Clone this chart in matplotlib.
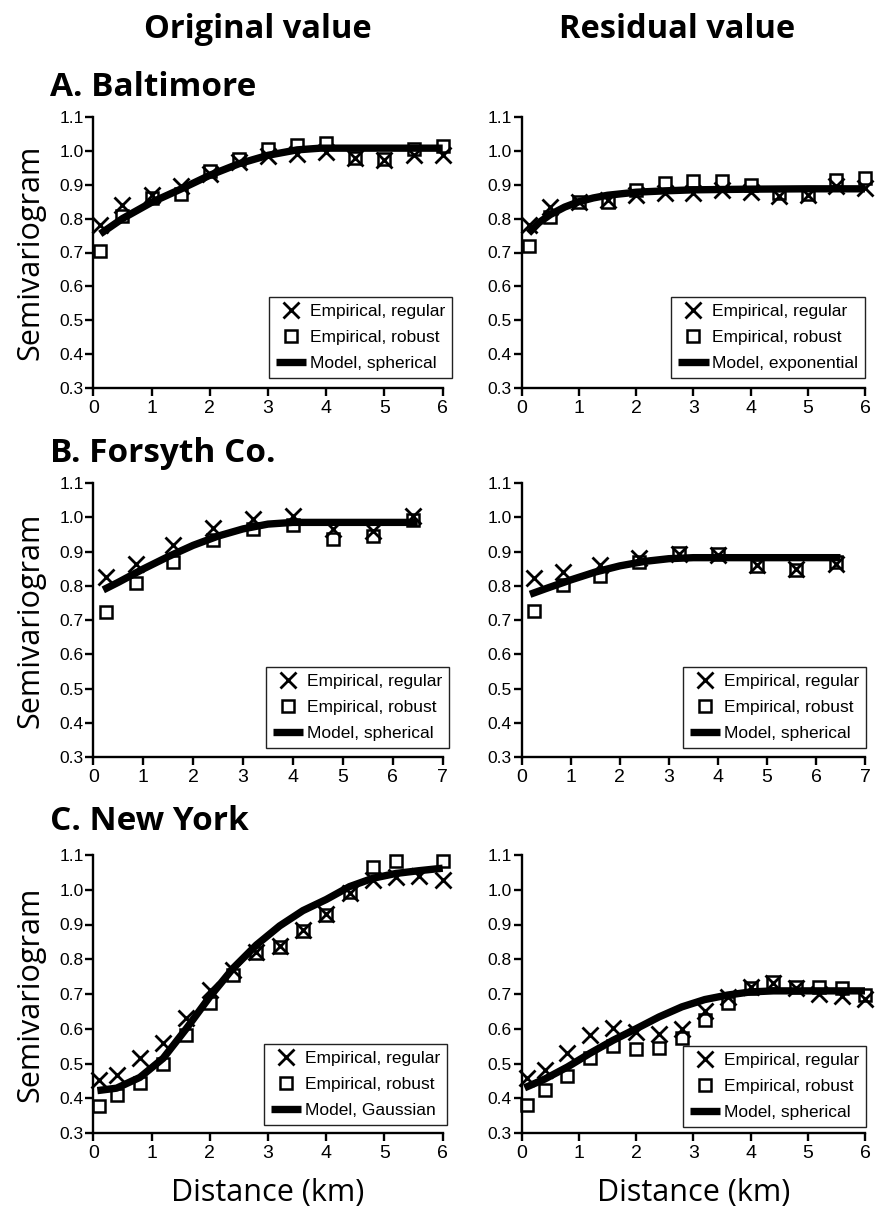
import matplotlib
matplotlib.use('Agg')
import matplotlib.pyplot as plt
from matplotlib.lines import Line2D
import numpy as np

nan = np.nan

# ---------------- data ----------------
a_x = [0.12, 0.5, 1.0, 1.5, 2.0, 2.5, 3.0, 3.5, 4.0, 4.5, 5.0, 5.5, 6.0]
a_orig_reg = [0.781, 0.840, 0.869, 0.896, 0.933, 0.968, 0.984, 0.992, 0.996, 0.978, 0.973, 0.987, 0.987]
a_orig_rob = [0.705, 0.807, 0.860, 0.874, 0.941, 0.975, 1.007, 1.017, 1.022, 0.978, 0.975, 1.007, 1.014]
a_orig_model_x = [0.12, 0.5, 1.0, 1.5, 2.0, 2.5, 3.0, 3.5, 3.9, 6.0]
a_orig_model_y = [0.755, 0.800, 0.848, 0.887, 0.928, 0.962, 0.987, 1.003, 1.008, 1.008]
a_res_reg = [0.781, 0.835, 0.850, 0.855, 0.871, 0.877, 0.877, 0.885, 0.878, 0.868, 0.870, 0.895, 0.890]
a_res_rob = [0.718, 0.805, 0.848, 0.848, 0.885, 0.905, 0.910, 0.910, 0.900, 0.876, 0.872, 0.913, 0.920]
a_res_model_x = [0.12, 0.3, 0.5, 0.75, 1.0, 1.25, 1.5, 2.0, 2.5, 3.0, 4.0, 5.0, 6.0]
a_res_model_y = [0.757, 0.788, 0.812, 0.834, 0.850, 0.861, 0.869, 0.878, 0.882, 0.885, 0.887, 0.888, 0.888]

b_x = [0.25, 0.85, 1.6, 2.4, 3.2, 4.0, 4.8, 5.6, 6.4]
b_orig_reg = [0.825, 0.864, 0.920, 0.968, 0.995, 1.003, 0.966, 0.961, 1.003]
b_orig_rob = [0.723, 0.809, 0.869, 0.934, 0.966, 0.978, 0.937, 0.944, 0.993]
b_orig_model_x = [0.2, 0.5, 1.0, 1.5, 2.0, 2.5, 3.0, 3.5, 4.0, 6.5]
b_orig_model_y = [0.788, 0.810, 0.849, 0.885, 0.918, 0.945, 0.966, 0.980, 0.985, 0.985]
b_res_reg = [0.822, 0.840, 0.861, 0.881, 0.893, 0.890, 0.861, 0.850, 0.864]
b_res_rob = [0.725, 0.801, 0.828, 0.869, 0.896, 0.893, 0.857, 0.845, 0.869]
b_res_model_x = [0.17, 0.5, 1.0, 1.5, 2.0, 2.5, 3.0, 3.5, 6.5]
b_res_model_y = [0.775, 0.792, 0.817, 0.840, 0.858, 0.871, 0.879, 0.882, 0.882]

c_x = [0.1, 0.4, 0.8, 1.2, 1.6, 2.0, 2.4, 2.8, 3.2, 3.6, 4.0, 4.4, 4.8, 5.2, 5.6, 6.0]
c_orig_reg = [0.452, 0.467, 0.515, 0.560, 0.630, 0.711, 0.769, 0.822, 0.838, 0.884, 0.930, 0.990, 1.028, 1.036, 1.040, 1.028]
c_orig_rob = [0.379, 0.410, 0.443, 0.499, 0.582, 0.675, 0.755, 0.817, 0.834, 0.882, 0.927, 0.994, 1.066, 1.084, nan, 1.084]
c_orig_model_x = [0.07, 0.4, 0.8, 1.2, 1.6, 2.0, 2.4, 2.8, 3.2, 3.6, 4.0, 4.4, 4.8, 5.2, 5.6, 6.0]
c_orig_model_y = [0.422, 0.429, 0.460, 0.515, 0.601, 0.692, 0.774, 0.841, 0.896, 0.940, 0.972, 1.009, 1.033, 1.047, 1.055, 1.062]
c_res_reg = [0.459, 0.482, 0.530, 0.581, 0.603, 0.590, 0.586, 0.600, 0.651, 0.692, 0.721, 0.732, 0.716, 0.699, 0.694, 0.685]
c_res_rob = [0.381, 0.425, 0.463, 0.517, 0.550, 0.543, 0.546, 0.572, 0.624, 0.675, 0.716, 0.735, 0.720, 0.720, 0.718, 0.697]
c_res_model_x = [0.05, 0.4, 0.8, 1.2, 1.6, 2.0, 2.4, 2.8, 3.2, 3.6, 4.0, 4.4, 6.0]
c_res_model_y = [0.430, 0.455, 0.490, 0.530, 0.567, 0.600, 0.634, 0.663, 0.684, 0.697, 0.706, 0.709, 0.709]

col_titles = ["Original value", "Residual value"]
row_titles = ["A. Baltimore", "B. Forsyth Co.", "C. New York"]
legend_labels = ["Empirical, regular", "Empirical, robust"]
y_ticks = [0.3, 0.4, 0.5, 0.6, 0.7, 0.8, 0.9, 1.0, 1.1]

# ---------------- layout ----------------
W, H = 886, 1212
fig = plt.figure(figsize=(W / 100, H / 100), dpi=100)

TICKFONT = 'Liberation Sans'
TITLEFONT = 'Open Sans'

cols = [(93.3, 442.7), (521.7, 865.0)]
rows = [(117, 388), (483, 757), (855, 1133)]
leg_corner = {
    (0, 0): (452, 378), (0, 1): (865, 378),
    (1, 0): (449, 748), (1, 1): (866, 748),
    (2, 0): (447, 1125), (2, 1): (866, 1127),
}

panels = [
    (0, 0, a_x, a_orig_reg, a_orig_rob, a_orig_model_x, a_orig_model_y, 6, "Model, spherical"),
    (0, 1, a_x, a_res_reg, a_res_rob, a_res_model_x, a_res_model_y, 6, "Model, exponential"),
    (1, 0, b_x, b_orig_reg, b_orig_rob, b_orig_model_x, b_orig_model_y, 7, "Model, spherical"),
    (1, 1, b_x, b_res_reg, b_res_rob, b_res_model_x, b_res_model_y, 7, "Model, spherical"),
    (2, 0, c_x, c_orig_reg, c_orig_rob, c_orig_model_x, c_orig_model_y, 6, "Model, Gaussian"),
    (2, 1, c_x, c_res_reg, c_res_rob, c_res_model_x, c_res_model_y, 6, "Model, spherical"),
]

for (r, c, xs, reg, rob, mx, my, xmax, mlabel) in panels:
    x0, x1 = cols[c]
    top, bot = rows[r]
    ax = fig.add_axes([x0 / W, 1 - bot / H, (x1 - x0) / W, (bot - top) / H])
    ax.set_xlim(0, xmax)
    ax.set_ylim(0.3, 1.1)
    ax.patch.set_alpha(0)
    for s in ['top', 'right']:
        ax.spines[s].set_visible(False)
    for s in ['left', 'bottom']:
        ax.spines[s].set_linewidth(1.7)
    ax.set_xticks(range(0, xmax + 1))
    ax.set_yticks(y_ticks)
    ax.set_yticklabels([f"{v:.1f}" for v in y_ticks])
    ax.tick_params(direction='out', length=5.5, width=1.7)
    ax.tick_params(axis='x', labelsize=14, pad=3)
    ax.tick_params(axis='y', labelsize=12.5, pad=1.5)
    for lab in ax.get_xticklabels() + ax.get_yticklabels():
        lab.set_fontfamily(TICKFONT)

    ax.plot(xs, reg, ls='none', marker='x', color='k', ms=11, mew=2, clip_on=False, zorder=3)
    ax.plot(xs, rob, ls='none', marker='s', mfc='none', mec='k', ms=9, mew=1.8, clip_on=False, zorder=3)
    ax.plot(mx, my, color='k', lw=5.3, solid_capstyle='butt', clip_on=False, zorder=4)

    handles = [Line2D([], [], marker='x', ls='none', color='k', ms=11, mew=2),
               Line2D([], [], marker='s', ls='none', mfc='none', mec='k', ms=9, mew=1.8),
               Line2D([], [], color='k', lw=5.3, solid_capstyle='butt')]
    rx, by = leg_corner[(r, c)]
    leg = ax.legend(handles, legend_labels + [mlabel], loc='lower right',
                    bbox_to_anchor=(rx / W, 1 - by / H), bbox_transform=fig.transFigure,
                    borderaxespad=0, frameon=True, fancybox=False, framealpha=1,
                    edgecolor='#222222', prop={'family': TICKFONT, 'size': 12.5},
                    handlelength=1.75, handletextpad=0.2, borderpad=0.4,
                    labelspacing=0.62)
    leg.get_frame().set_linewidth(1.0)
    leg.set_zorder(10)

    if c == 0:
        fig.text(30 / W, 1 - ((top + bot) / 2) / H, "Semivariogram", rotation=90,
                 ha='center', va='center', fontsize=22, family=TITLEFONT)
    if r == 2:
        fig.text(((x0 + x1) / 2) / W, 1 - 1193 / H, "Distance (km)",
                 ha='center', va='center', fontsize=22, family=TITLEFONT)

# column and row titles
fig.text(258 / W, 1 - 30 / H, col_titles[0], ha='center', va='center',
         fontsize=23.5, fontweight='bold', family=TITLEFONT)
fig.text(677 / W, 1 - 30 / H, col_titles[1], ha='center', va='center',
         fontsize=23.5, fontweight='bold', family=TITLEFONT)
for title, yc in zip(row_titles, [88, 453, 822]):
    fig.text(50 / W, 1 - yc / H, title, ha='left', va='center',
             fontsize=24, fontweight='bold', family=TITLEFONT)

fig.savefig('out.png', dpi=100)
